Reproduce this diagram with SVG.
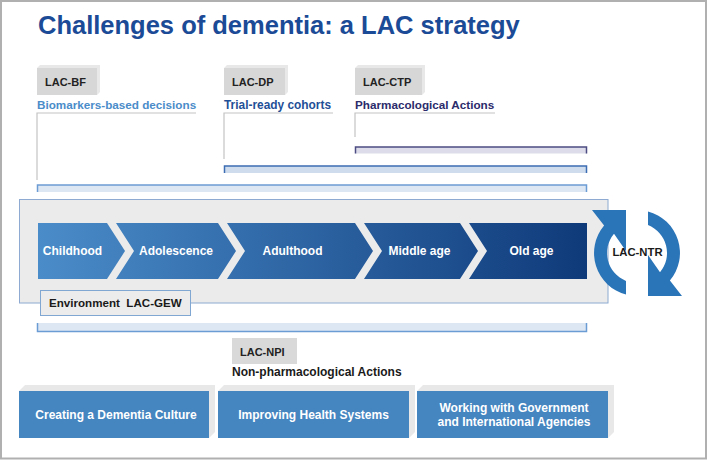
<svg xmlns="http://www.w3.org/2000/svg" width="708" height="460" viewBox="0 0 708 460">
<defs>
<linearGradient id="life" gradientUnits="userSpaceOnUse" x1="38" y1="0" x2="587" y2="0">
<stop offset="0" stop-color="#4a8cc9"/>
<stop offset="1" stop-color="#0f3a7a"/>
</linearGradient>
<style>
text{font-family:"Liberation Sans",Arial,sans-serif;font-weight:bold}
.tag{fill:#d7d7d7}
.bev{fill:#e8e8e8}
.tagt{font-size:11px;fill:#222}
.brk{fill:none;stroke:#c4c4c4;stroke-width:1.2}
.chev{fill:url(#life)}
.ct{font-size:12px;fill:#fff;text-anchor:middle}
.act{fill:#4585c0}
.at{font-size:12px;fill:#fff;text-anchor:middle}
.cyc{fill:#2a74b8}
</style>
</defs>
<rect x="1" y="1" width="705" height="457.5" fill="#fff" stroke="#b0b0b0" stroke-width="2"/>
<text x="38" y="34" font-size="25.5" fill="#1b4a96">Challenges of dementia: a LAC strategy</text>

<g id="lac-bf">
<polygon class="bev" points="37,68 40,65 100,65 100,92 97,95 97,68"/>
<rect class="tag" x="37" y="68" width="60" height="27"/>
<text class="tagt" x="45" y="85.5">LAC-BF</text>
<text x="37" y="109" font-size="11.7" fill="#4a8cc9">Biomarkers-based decisions</text>
</g>
<g id="lac-dp">
<polygon class="bev" points="224,68 227,65 288,65 288,92 285,95 285,68"/>
<rect class="tag" x="224" y="68" width="61" height="27"/>
<text class="tagt" x="232" y="85.5">LAC-DP</text>
<text x="224" y="109" font-size="11.9" fill="#1f4f97">Trial-ready cohorts</text>
</g>
<g id="lac-ctp">
<polygon class="bev" points="355,68 358,65 425,65 425,92 422,95 422,68"/>
<rect class="tag" x="355" y="68" width="67" height="27"/>
<text class="tagt" x="363" y="85.5">LAC-CTP</text>
<text x="355" y="109" font-size="11.7" fill="#2b2b6b">Pharmacological Actions</text>
</g>

<g id="connectors">
<path class="brk" d="M196,113 H37 V180"/>
<path class="brk" d="M333,113 H224 V159"/>
<path class="brk" d="M495,113 H355 V137"/>
<rect x="355" y="147" width="232" height="6.5" fill="#dcdcea"/>
<path d="M355.5,153.5 V147 H586.5 V153.5" fill="none" stroke="#4c4c82" stroke-width="1.5"/>
<rect x="224" y="166" width="363" height="7" fill="#cfdcee"/>
<path d="M224.5,173 V166 H586.5 V173" fill="none" stroke="#3c6cb2" stroke-width="1.5"/>
<rect x="37" y="185" width="550" height="7" fill="#dde7f3"/>
<path d="M37.5,192 V185 H586.5 V192" fill="none" stroke="#6c9cd4" stroke-width="1.5"/>
<rect x="37" y="323" width="550" height="9" fill="#dde7f3"/>
<path d="M37.5,323 V331.5 H586.5 V323" fill="none" stroke="#6c9cd4" stroke-width="1.5"/>
</g>

<g id="life-course">
<rect x="19.5" y="199.5" width="588.5" height="103.5" fill="#ebebeb" stroke="#8eaad2" stroke-width="1"/>
<g id="childhood">
<polygon class="chev" points="38,223 107,223 125,251 107,279 38,279"/>
<text class="ct" x="72.5" y="255">Childhood</text>
</g>
<g id="adolescence">
<polygon class="chev" points="116,223 218,223 236,251 218,279 116,279 134,251"/>
<text class="ct" x="176" y="255">Adolescence</text>
</g>
<g id="adulthood">
<polygon class="chev" points="227,223 355,223 373,251 355,279 227,279 245,251"/>
<text class="ct" x="292.5" y="255">Adulthood</text>
</g>
<g id="middle-age">
<polygon class="chev" points="364,223 460,223 478,251 460,279 364,279 382,251"/>
<text class="ct" x="419.5" y="255">Middle age</text>
</g>
<g id="old-age">
<polygon class="chev" points="469,223 587,223 587,279 469,279 487,251"/>
<text class="ct" x="531.5" y="255">Old age</text>
</g>
</g>

<g id="lac-gew">
<rect x="40.5" y="290.5" width="150" height="25" fill="#ececec" stroke="#80a6d2" stroke-width="1"/>
<text x="49" y="307" font-size="11.6" fill="#1a1a1a" xml:space="preserve">Environment  LAC-GEW</text>
</g>

<g id="lac-ntr">
<path class="cyc" d="M648,211.4 A43,43 0 0 1 669.9,280.6 L682,296 L648,296 L648,255 L660,272.3 A30,30 0 0 0 648,225.1 Z"/>
<path class="cyc" transform="rotate(180 637 253)" d="M648,211.4 A43,43 0 0 1 669.9,280.6 L682,296 L648,296 L648,255 L660,272.3 A30,30 0 0 0 648,225.1 Z"/>
<text x="637.5" y="256" font-size="11.3" fill="#1a1a1a" text-anchor="middle">LAC-NTR</text>
</g>

<g id="lac-npi">
<rect x="232" y="338" width="65" height="26" fill="#d9d9d9"/>
<text class="tagt" x="240" y="355.5" font-size="11.3">LAC-NPI</text>
<text x="232" y="376" font-size="12" fill="#1a1a1a">Non-pharmacological Actions</text>
</g>

<g id="dementia-culture">
<polygon class="bev" points="19,391 25,385 215,385 215,432 209,438 209,391"/>
<rect class="act" x="19" y="391" width="190" height="47"/>
<text class="at" x="116" y="418.5">Creating a Dementia Culture</text>
</g>
<g id="health-systems">
<polygon class="bev" points="218,391 224,385 415,385 415,432 409,438 409,391"/>
<rect class="act" x="218" y="391" width="191" height="47"/>
<text class="at" x="313.5" y="418.5">Improving Health Systems</text>
</g>
<g id="government">
<polygon class="bev" points="417,391 423,385 614,385 614,432 608,438 608,391"/>
<rect class="act" x="417" y="391" width="191" height="47"/>
<text class="at" x="514" y="412">Working with Government</text>
<text class="at" x="514" y="426">and International Agencies</text>
</g>
</svg>
